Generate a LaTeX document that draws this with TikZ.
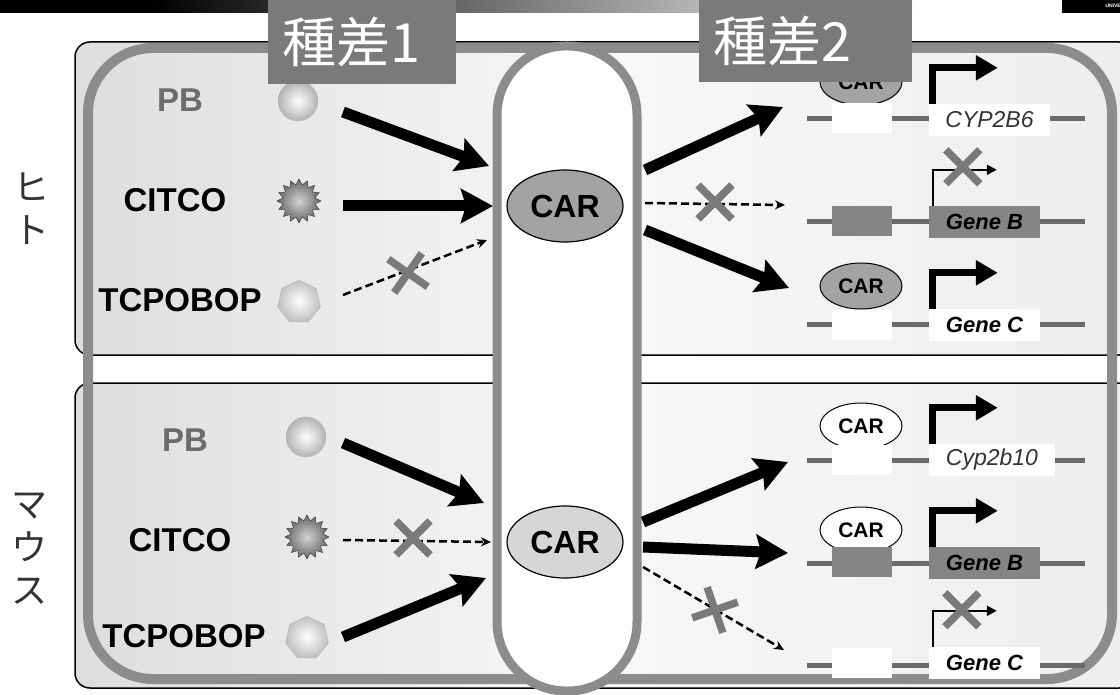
\documentclass[tikz,border=0pt]{standalone}
\usepackage{fontspec}
\setmainfont{Liberation Sans}
\newfontfamily\jpfont{Noto Sans CJK JP}
\usepackage{tikz}
\usetikzlibrary{arrows.meta,shapes.geometric,calc}

\definecolor{membrane}{gray}{0.55}
\definecolor{tabgray}{gray}{0.48}
\definecolor{dnagray}{gray}{0.42}
\definecolor{boxgray}{gray}{0.52}
\definecolor{xgray}{gray}{0.48}
\definecolor{cardark}{gray}{0.64}
\definecolor{carlight}{gray}{0.84}
\definecolor{genetext}{gray}{0.2}

\pgfdeclarehorizontalshading{panelshade}{100bp}{color(0bp)=(gray!48); color(30bp)=(gray!22); color(50bp)=(gray!6); color(75bp)=(gray!14); color(100bp)=(gray!58)}

\tikzset{
    panel/.style={draw=black, line width=1.5pt, rounded corners=15, shading=panelshade},
    tab/.style={fill=tabgray, text=white, font=\jpfont\fontsize{54}{54}\selectfont, minimum height=84, inner xsep=14, inner ysep=0, align=left},
    logo/.style={text=white, font=\fontsize{5}{5}\selectfont\bfseries, inner sep=0},
    species/.style={font=\jpfont\fontsize{36}{43}\selectfont, text=gray!40!black, align=center},
    drug/.style={font=\fontsize{33}{33}\selectfont\bfseries},
    ball/.style={circle, minimum size=40, inner sep=0, draw=gray!55, inner color=white, outer color=gray!60},
    spiky/.style={star, star points=16, star point ratio=1.35, minimum size=44, inner sep=0, draw=gray!40!black, inner color=gray!35, outer color=gray!80!black},
    hepta/.style={regular polygon, regular polygon sides=7, minimum size=44, inner sep=0, draw=gray!55, inner color=white, outer color=gray!50},
    bigcar/.style={ellipse, draw, line width=1.2pt, minimum width=116, minimum height=72, inner sep=0, font=\fontsize{32}{32}\selectfont\bfseries},
    smallcar/.style={ellipse, draw, line width=1pt, minimum width=82, minimum height=46, inner sep=0, font=\fontsize{21}{21}\selectfont\bfseries},
    site/.style={rectangle, fill=white, minimum width=60, minimum height=30, inner sep=0},
    gene/.style={rectangle, fill=white, minimum height=32, inner sep=0, font=\fontsize{22}{22}\selectfont\bfseries\itshape},
    genename/.style={text=genetext, font=\fontsize{23}{23}\selectfont\itshape},
    dna/.style={dnagray, line width=5pt},
    bind/.style={line width=11pt, -{Stealth[length=32pt, width=34pt, inset=5pt]}},
    nobind/.style={line width=2.5pt, dash pattern=on 8pt off 4pt, -{Stealth[length=10pt, width=9pt]}},
    promo/.style={line width=7pt, -{Triangle[length=22pt, width=24pt]}},
    weakpromo/.style={line width=2pt, -{Triangle[length=10pt, width=10pt]}},
    nogo/.pic={\draw[xgray, line width=7.5pt, solid, arrows=-] (-17,-17) -- (17,17) (-17,17) -- (17,-17);}
}

\begin{document}
\begin{tikzpicture}[x=1pt, y=-1pt]
    \useasboundingbox (0,0) rectangle (1120,695);
    \fill[white] (0,0) rectangle (1120,695);

    % title strip
    \fill[black] (0,0) rectangle (150,13);
    \shade[left color=black, right color=white] (150,0) rectangle (920,13);
    \fill[black] (1062,0) rectangle (1120,13);
    \node[logo, anchor=east] (logo) at (1121,6) {UNIVE};

    % panels, cell membrane and nucleus
    \draw[panel] (75,42) rectangle (1134,355);
    \draw[panel] (75,383) rectangle (1134,688);
    \draw[membrane, line width=10pt, rounded corners=65] (88,48) rectangle (1112,679);
    \draw[membrane, line width=9pt, fill=white, rounded corners=69] (497,46) rectangle (637,691);

    \node[species] (hito) at (31,209) {ヒ\\ト};
    \node[species] (mouse) at (30,549) {マ\\ウ\\ス};

    % human
    \node[drug, text=gray!85!black] (hpbl) at (180,100) {PB};
    \node[drug] (hcitl) at (175,200) {CITCO};
    \node[drug] (htcpl) at (180,300) {TCPOBOP};
    \node[ball] (hpb) at (298,101) {};
    \node[spiky] (hcit) at (299,201) {};
    \node[hepta] (htcp) at (299,302) {};
    \node[bigcar, fill=cardark] (hcar) at (565,206) {CAR};

    \coordinate (hin1) at (489,166);
    \coordinate (hin2) at (493,206);
    \coordinate (hin3) at (487,240);
    \coordinate (hout1) at (783,107);
    \coordinate (hout2) at (785,205);
    \coordinate (hout3) at (789,288);

    \draw[bind] ($(hpb)+(45,11)$) -- (hin1);
    \draw[bind] ($(hcit)+(44,5)$) -- (hin2);
    \draw[nobind] ($(htcp)+(44,-7)$) -- (hin3);
    \pic[rotate=10] at (408,273) {nogo};
    \draw[bind] ($(hcar)+(80,-36)$) -- (hout1);
    \draw[nobind] ($(hcar)+(80,-3)$) -- (hout2);
    \pic at (715,202) {nogo};
    \draw[bind] ($(hcar)+(80,24)$) -- (hout3);

    \draw[dna] (807,119) -- (1085,119);
    \draw[dna] (807,222) -- (1085,222);
    \draw[dna] (807,325) -- (1085,325);
    \node[smallcar, fill=cardark] (hc1) at (861,82) {CAR};
    \node[smallcar, fill=cardark] (hc3) at (861,286) {CAR};
    \node[site] (hs1) at (862,118) {};
    \node[gene, genename, minimum width=121] (hg1) at (989.5,120) {CYP2B6};
    \node[site, fill=boxgray] (hs2) at (862,221) {};
    \node[gene, minimum width=111, fill=boxgray] (hg2) at (984.5,222) {Gene B};
    \node[site] (hs3) at (862,325) {};
    \node[gene, minimum width=111] (hg3) at (984.5,325) {Gene C};
    \draw[promo] ($(hg1.north west)+(4,0)$) |- ++(65,-36);
    \draw[weakpromo] ($(hg2.north west)+(4,0)$) |- ++(64,-36);
    \pic at ($(hg2.north west)+(34,-39)$) {nogo};
    \draw[promo] ($(hg3.north west)+(4,0)$) |- ++(65,-36);

    % mouse
    \node[drug, text=gray!85!black] (mpbl) at (185,440) {PB};
    \node[drug] (mcitl) at (180,540) {CITCO};
    \node[drug] (mtcpl) at (184,636) {TCPOBOP};
    \node[ball] (mpb) at (306,437) {};
    \node[spiky] (mcit) at (307,537) {};
    \node[hepta] (mtcp) at (307,638) {};
    \node[bigcar, fill=carlight] (mcar) at (565,542) {CAR};

    \coordinate (min1) at (484,503);
    \coordinate (min2) at (491,542);
    \coordinate (min3) at (486,578);
    \coordinate (mout1) at (788,462);
    \coordinate (mout2) at (788,553);
    \coordinate (mout3) at (784,650);

    \draw[bind] ($(mpb)+(37,6)$) -- (min1);
    \draw[nobind] ($(mcit)+(36,3)$) -- (min2);
    \pic at (413,538) {nogo};
    \draw[bind] ($(mtcp)+(36,-1)$) -- (min3);
    \draw[bind] ($(mcar)+(78,-20)$) -- (mout1);
    \draw[bind] ($(mcar)+(78,5)$) -- (mout2);
    \draw[nobind] ($(mcar)+(78,25)$) -- (mout3);
    \pic[rotate=-26] at (715,610) {nogo};

    \draw[dna] (807,460) -- (1085,460);
    \draw[dna] (807,563) -- (1085,563);
    \draw[dna] (807,665) -- (1085,665);
    \node[smallcar, fill=white] (mc1) at (861,426) {CAR};
    \node[smallcar, fill=white] (mc2) at (861,530) {CAR};
    \node[site] (ms1) at (862,460) {};
    \node[gene, genename, minimum width=126] (mg1) at (992,460) {Cyp2b10};
    \node[site, fill=boxgray] (ms2) at (862,562) {};
    \node[gene, minimum width=111, fill=boxgray] (mg2) at (984.5,563) {Gene B};
    \node[site] (ms3) at (862,663) {};
    \node[gene, minimum width=111] (mg3) at (984.5,663) {Gene C};
    \draw[promo] ($(mg1.north west)+(4,0)$) |- ++(65,-36);
    \draw[promo] ($(mg2.north west)+(4,0)$) |- ++(65,-36);
    \draw[weakpromo] ($(mg3.north west)+(4,0)$) |- ++(64,-36);
    \pic at ($(mg3.north west)+(33,-37)$) {nogo};

    % species difference tabs
    \node[tab, anchor=north west, text width=160] (sp1) at (268,0) {\raisebox{-4pt}{種差1}};
    \node[tab, anchor=north west, text width=185, minimum height=82] (sp2) at (699,0) {\raisebox{-4pt}{種差2}};
\end{tikzpicture}
\end{document}
